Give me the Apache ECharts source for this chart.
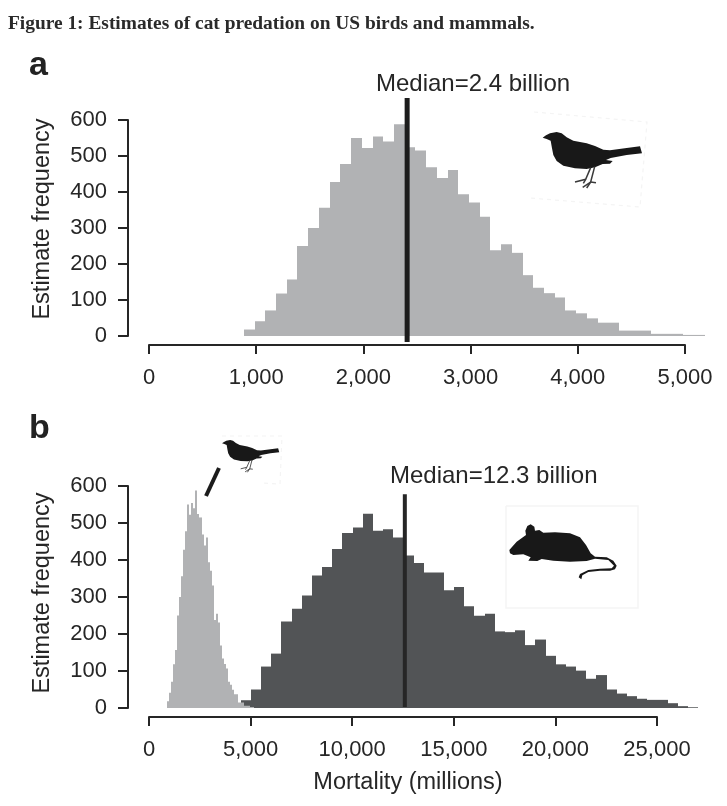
<!DOCTYPE html>
<html><head><meta charset="utf-8">
<style>html,body{margin:0;padding:0;background:#fff}#c{width:727px;height:806px}</style>
<script src="https://cdn.jsdelivr.net/npm/echarts@6/dist/echarts.min.js"></script>
</head><body><div id="c"></div>
<script>
const titleText = 'Figure 1: Estimates of cat predation on US birds and mammals.';
const birdStart = 885, birdBin = 100;
const birdCounts = [18,41,71,118,157,250,300,356,428,478,550,522,554,540,588,524,515,469,439,461,394,371,331,238,255,231,169,134,119,107,71,63,49,37,37,15,15,15,6,6,6,3,3];
const mammalStart = 4017, mammalBin = 500;
const mammalCounts = [3,21,50,112,147,234,268,304,358,381,430,473,488,525,479,483,461,412,392,366,366,318,327,275,249,255,207,205,210,170,185,141,118,112,101,79,89,50,39,32,25,22,22,13,5,2];
const birdMedian = [[2408, -17, 661]];
const mammalMedian = [[12590, 3, 578]];
const panelLetters = ['a', 'b'];
const medianLabels = ['Median=2.4 billion', 'Median=12.3 billion'];

const FONT = '"Liberation Sans", Arial, sans-serif';
const INK = '#262626';
const bins = (start, w, arr) => arr.map((v, i) => [start + i * w, start + (i + 1) * w, v]);

function renderBin(params, api) {
  const a = api.coord([api.value(0), api.value(2)]);
  const b = api.coord([api.value(1), 0]);
  const x0 = Math.round(a[0]), x1 = Math.round(b[0]);
  return { type: 'rect', shape: { x: x0, y: a[1], width: x1 - x0, height: b[1] - a[1] }, style: { fill: api.visual('color') } };
}
const histSeries = (name, axis, data, color) => ({
  type: 'custom', name, xAxisIndex: axis, yAxisIndex: axis, clip: false,
  renderItem: renderBin, data, encode: { x: [0, 1], y: 2 },
  itemStyle: { color }, silent: true
});
const medianSeries = (axis, data, w, color) => ({
  type: 'custom', name: 'Median', xAxisIndex: axis, yAxisIndex: axis, clip: false, silent: true,
  data, encode: { x: 0, y: [1, 2] }, itemStyle: { color }, z: 5,
  renderItem(params, api) {
    const hi = api.coord([api.value(0), api.value(2)]);
    const lo = api.coord([api.value(0), api.value(1)]);
    return { type: 'rect', shape: { x: hi[0] - w / 2, y: hi[1], width: w, height: lo[1] - hi[1] }, style: { fill: api.visual('color') } };
  }
});
const axisLine = { onZero: false, lineStyle: { color: INK, width: 2 } };
const axisTick = len => ({ show: true, length: len, lineStyle: { color: INK, width: 2 } });
const xAxisOf = (grid, max, interval, extra) => Object.assign({
  type: 'value', gridIndex: grid, min: 0, max, interval, position: 'bottom', offset: 9,
  axisLine, axisTick: axisTick(9), splitLine: { show: false },
  axisLabel: { color: INK, fontFamily: FONT, fontSize: 22, margin: 22 }
}, extra || {});
const yAxisOf = (grid, pad) => ({
  type: 'value', gridIndex: grid, min: 0, max: 600, interval: 100, position: 'left', offset: 21,
  axisLine, axisTick: axisTick(10), splitLine: { show: false },
  axisLabel: { color: INK, fontFamily: FONT, fontSize: 22, margin: 21 },
  name: 'Estimate frequency', nameLocation: 'middle', nameGap: 73, nameRotate: 90,
  nameTextStyle: { color: INK, fontFamily: FONT, fontSize: 23.5, padding: [0, 0, 0, pad] }
});
const label = (text, left, cy, font, color) => ({
  type: 'text', x: left, y: cy, silent: true,
  style: { text, font, fill: color || INK, verticalAlign: 'middle', align: 'left' }
});

const birdBody = [[68,113],[78,106],[90,100],[110,96],[125,100],[140,112],[160,122],[200,130],[225,138],[250,149],[270,151],[320,144],[360,139],[366,160],[320,165],[272,174],[258,180],[278,183],[270,191],[248,192],[225,202],[200,207],[165,205],[130,197],[110,183],[100,165],[96,145],[92,122],[80,117]];
const birdLegs = [[[212,203],[197,238],[165,246]], [[197,238],[190,250]], [[224,200],[212,246],[188,262]], [[212,246],[228,248]], [[212,246],[200,264]]];
const mouseBody = [[28,150],[50,125],[78,105],[76,92],[82,78],[92,73],[103,80],[105,92],[118,90],[130,98],[165,97],[210,100],[240,112],[258,135],[272,160],[285,170],[320,172],[340,182],[350,197],[345,208],[330,212],[300,212],[265,216],[247,226],[244,238],[236,232],[240,222],[265,210],[300,206],[335,205],[342,197],[325,180],[285,176],[260,183],[210,185],[160,182],[125,177],[112,183],[85,182],[92,172],[70,163],[40,165],[30,160]];

function silhouette(x, y, s, body, legs) {
  const out = [{ type: 'polygon', x, y, scaleX: s, scaleY: s, shape: { points: body }, style: { fill: '#181818' }, silent: true }];
  (legs || []).forEach(p => out.push({ type: 'polyline', x, y, scaleX: s, scaleY: s, shape: { points: p },
    style: { fill: null, stroke: '#3a3a3a', lineWidth: 4.5 }, silent: true }));
  return out;
}
const faint = (points, dash) => ({ type: 'polyline', shape: { points }, silent: true,
  style: dash ? { fill: null, stroke: '#f4f4f4', lineWidth: 1.2, lineDash: [4, 4] } : { fill: null, stroke: '#f5f5f5', lineWidth: 1.5 } });

const chart = echarts.init(document.getElementById('c'));
chart.setOption({
  animation: false, backgroundColor: '#fff',
  grid: [
    { left: 149, top: 120, width: 536, height: 216 },
    { left: 149, top: 486, width: 508, height: 222 }
  ],
  xAxis: [
    xAxisOf(0, 5000, 1000),
    xAxisOf(1, 25000, 5000, {
      name: 'Mortality (millions)', nameLocation: 'middle', nameGap: 54,
      nameTextStyle: { color: INK, fontFamily: FONT, fontSize: 23.5, padding: [0, 0, 0, 10] }
    })
  ],
  yAxis: [yAxisOf(0, 18), yAxisOf(1, 8)],
  series: [
    histSeries('Birds', 0, bins(birdStart, birdBin, birdCounts), '#b1b2b4'),
    medianSeries(0, birdMedian, 5, '#1c1c1c'),
    histSeries('Mammals', 1, bins(mammalStart, mammalBin, mammalCounts), '#525456'),
    histSeries('Birds', 1, bins(birdStart, birdBin, birdCounts), '#b1b2b4'),
    medianSeries(1, mammalMedian, 4, '#262626')
  ],
  graphic: { elements: [
    label(titleText, 8, 24, 'bold 19.4px "Liberation Serif", serif', '#2a2a2a'),
    label(panelLetters[0], 29, 66, 'bold 34px ' + FONT, '#222'),
    label(panelLetters[1], 29, 429, 'bold 34px ' + FONT, '#222'),
    label(medianLabels[0], 376, 84, '24px ' + FONT),
    label(medianLabels[1], 390, 476, '24px ' + FONT),
    faint([[534,112],[647,122],[640,207],[530,198]], true),
    faint([[506,506],[638,506],[638,608],[506,608],[506,506]], false),
    faint([[222,436],[282,436],[280,484],[262,483]], true),
    ...silhouette(520, 100, 1 / 3, birdBody, birdLegs),
    ...silhouette(209, 421.6, 0.192, birdBody, birdLegs),
    ...silhouette(500, 500, 1 / 3, mouseBody),
    { type: 'line', shape: { x1: 219, y1: 468, x2: 206, y2: 496 }, style: { stroke: '#1c1c1c', lineWidth: 4 }, silent: true }
  ] }
});
</script></body></html>
